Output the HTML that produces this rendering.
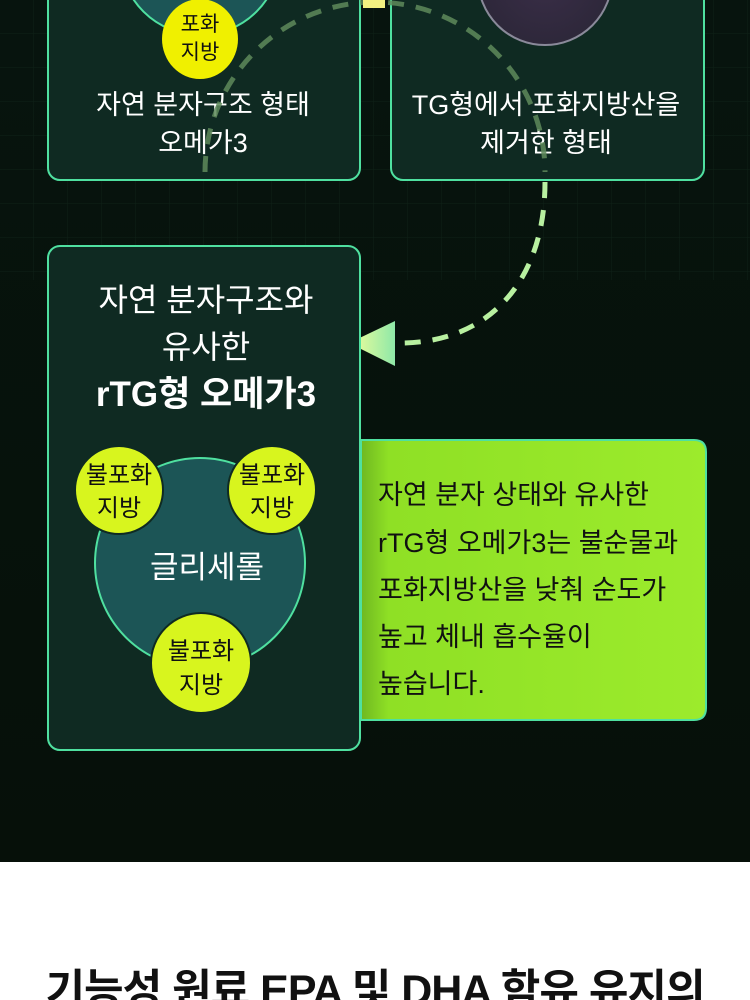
<!DOCTYPE html>
<html><head><meta charset="utf-8"><style>
html,body{margin:0;padding:0;width:750px;height:1000px;overflow:hidden;background:#fff}
svg{display:block}
text{font-family:"Liberation Sans","Noto Sans CJK KR",sans-serif}
</style></head><body>
<svg width="750" height="1000" viewBox="0 0 750 1000" xmlns="http://www.w3.org/2000/svg">
<defs>
<linearGradient id="bg" x1="0" y1="0" x2="0" y2="1">
<stop offset="0" stop-color="#07140e"/><stop offset="1" stop-color="#061009"/>
</linearGradient>
<linearGradient id="gbox" x1="0" y1="0" x2="1" y2="0">
<stop offset="0" stop-color="#6fb821"/><stop offset="0.08" stop-color="#8fe025"/><stop offset="1" stop-color="#9ceb2c"/>
</linearGradient>
<linearGradient id="arr" x1="0" y1="0" x2="1" y2="0">
<stop offset="0" stop-color="#f4ff9a"/><stop offset="1" stop-color="#8ee8a8"/>
</linearGradient>
<radialGradient id="purp" cx="0.5" cy="0.5" r="0.6">
<stop offset="0" stop-color="#3a2e48"/><stop offset="1" stop-color="#2b2637"/>
</radialGradient>
<pattern id="grid" width="34" height="34" patternUnits="userSpaceOnUse">
<path d="M34 0V34M0 34H34" stroke="#12281c" stroke-width="1" fill="none"/>
</pattern>
</defs>
<rect x="0" y="0" width="750" height="862" fill="url(#bg)"/>
<rect x="0" y="0" width="750" height="280" fill="url(#grid)" opacity="0.7"/>
<rect x="0" y="862" width="750" height="138" fill="#fff"/>

<rect x="48" y="-20" width="312" height="200" rx="12" fill="#0f2a22" stroke="#4fe0a0" stroke-width="2"/>
<circle cx="200" cy="-45" r="80" fill="#1c5556" stroke="#4fe0a0" stroke-width="2"/>
<ellipse cx="200" cy="39" rx="38" ry="40" fill="#f0f000"/>
<text x="200" y="31" font-size="21" text-anchor="middle" fill="#111">포화</text>
<text x="200" y="59" font-size="21" text-anchor="middle" fill="#111">지방</text>
<text x="203" y="114" font-size="27" text-anchor="middle" fill="#fff">자연 분자구조 형태</text>
<text x="203" y="152" font-size="27" text-anchor="middle" fill="#fff">오메가3</text>

<rect x="391" y="-20" width="313" height="200" rx="12" fill="#0f2a22" stroke="#4fe0a0" stroke-width="2"/>
<circle cx="545" cy="-22" r="67" fill="url(#purp)" stroke="#8a8a9a" stroke-width="2"/>
<text x="546" y="114" font-size="27" text-anchor="middle" fill="#fff">TG형에서 포화지방산을</text>
<text x="546" y="152" font-size="27" text-anchor="middle" fill="#fff">제거한 형태</text>

<path d="M205 172 A170 170 0 0 1 545 172" fill="none" stroke="#5e8a5a" stroke-width="5" stroke-dasharray="16 12" opacity="0.85"/>
<rect x="363" y="0" width="22" height="8" fill="#f2f080"/>
<path d="M545 182 C545 280 490 343 400 343" fill="none" stroke="#b8f0a0" stroke-width="5" stroke-dasharray="16 12"/>
<polygon points="349,343 395,321 395,366" fill="url(#arr)"/>

<rect x="48" y="246" width="312" height="504" rx="12" fill="#0f2a22" stroke="#4fe0a0" stroke-width="2"/>
<text x="206" y="311" font-size="32" text-anchor="middle" fill="#fff">자연 분자구조와</text>
<text x="206" y="358" font-size="32" text-anchor="middle" fill="#fff">유사한</text>
<text x="206" y="406" font-size="35" font-weight="bold" text-anchor="middle" fill="#fff">rTG형 오메가3</text>
<circle cx="200" cy="563" r="105" fill="#1c5556" stroke="#4fe0a0" stroke-width="2"/>
<text x="207" y="578" font-size="31" text-anchor="middle" fill="#fff">글리세롤</text>
<circle cx="119" cy="490" r="44" fill="#d8f51e" stroke="#0f2a22" stroke-width="2"/>
<text x="119" y="483" font-size="24" text-anchor="middle" fill="#111">불포화</text>
<text x="119" y="516" font-size="24" text-anchor="middle" fill="#111">지방</text>
<circle cx="272" cy="490" r="44" fill="#d8f51e" stroke="#0f2a22" stroke-width="2"/>
<text x="272" y="483" font-size="24" text-anchor="middle" fill="#111">불포화</text>
<text x="272" y="516" font-size="24" text-anchor="middle" fill="#111">지방</text>
<circle cx="201" cy="663" r="50" fill="#d8f51e" stroke="#0f2a22" stroke-width="2"/>
<text x="201" y="659" font-size="24" text-anchor="middle" fill="#111">불포화</text>
<text x="201" y="693" font-size="24" text-anchor="middle" fill="#111">지방</text>

<path d="M361 440 H694 Q706 440 706 452 V708 Q706 720 694 720 H361 Z" fill="url(#gbox)" stroke="#4fe0a0" stroke-width="2"/>
<g font-size="27" fill="#111">
<text x="378" y="504">자연 분자 상태와 유사한</text>
<text x="378" y="552">rTG형 오메가3는 불순물과</text>
<text x="378" y="599">포화지방산을 낮춰 순도가</text>
<text x="378" y="646">높고 체내 흡수율이</text>
<text x="378" y="693">높습니다.</text>
</g>

<text x="375" y="1005" font-size="43" font-weight="bold" text-anchor="middle" fill="#111" letter-spacing="-1">기능성 원료 EPA 및 DHA 함유 유지의</text>
</svg>
</body></html>
